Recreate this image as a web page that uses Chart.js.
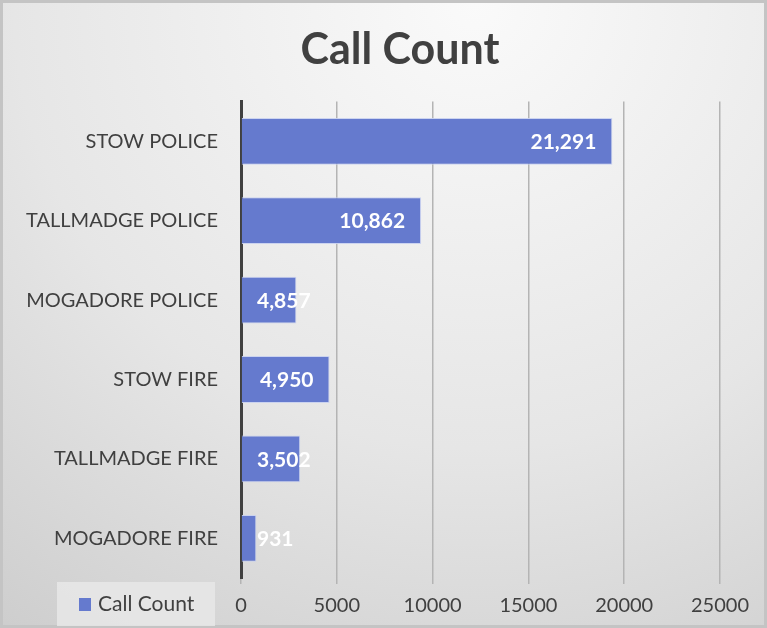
<!DOCTYPE html>
<html>
<head>
<meta charset="utf-8">
<title>Call Count</title>
<script src="https://cdn.jsdelivr.net/npm/chart.js@4.4.1/dist/chart.umd.min.js"></script>
<style>
    body { margin: 0; }
    #wrap { position: relative; width: 767px; height: 628px; }
    #bg {
        position: absolute; left: 0; top: 0; width: 767px; height: 628px;
        box-sizing: border-box; border: 3px solid #c4c4c4;
        background: radial-gradient(ellipse 110% 130% at 62% 0%, #fafafa 0%, #e6e6e6 55%, #cbcbcb 100%);
    }
    canvas { position: absolute; left: 0; top: 0; }
</style>
</head>
<body>
<div id="wrap">
    <div id="bg"></div>
    <canvas id="callChart" width="767" height="628"></canvas>
</div>
<script>
// categories, top to bottom
const categories = ['STOW POLICE', 'TALLMADGE POLICE', 'MOGADORE POLICE', 'STOW FIRE', 'TALLMADGE FIRE', 'MOGADORE FIRE'];
// bar lengths as drawn in the picture
const callCounts = [19380, 9400, 2890, 4620, 3090, 800];
// data label text shown on the bars
const callCountLabels = ['21,291', '10,862', '4,857', '4,950', '3,502', '931'];
const seriesName = 'Call Count';
const xMin = 0, xMax = 25000, xStep = 5000;

const textColor = '#404040';
const barColor = '#657ace';

Chart.defaults.font.family = 'Lato';

// white value labels near the end of each bar
const barLabels = {
    id: 'barLabels',
    afterDatasetsDraw(chart) {
        const ctx = chart.ctx;
        const meta = chart.getDatasetMeta(0);
        ctx.save();
        ctx.font = 'bold 21px Lato';
        ctx.fillStyle = '#ffffff';
        ctx.textBaseline = 'middle';
        ctx.textAlign = 'left';
        meta.data.forEach(function(bar, i) {
            const text = callCountLabels[i];
            const w = ctx.measureText(text).width;
            let x = bar.x - 16 - w;
            const minX = chart.chartArea.left + 16;
            if (x < minX) x = minX;
            ctx.fillText(text, x, bar.y + 1);
        });
        ctx.restore();
    }
};

// legend box in the bottom-left corner
const cornerLegend = {
    id: 'cornerLegend',
    afterDraw(chart) {
        const ctx = chart.ctx;
        ctx.save();
        ctx.fillStyle = 'rgba(232,232,232,0.85)';
        ctx.fillRect(57, 582, 158, 44);
        ctx.fillStyle = barColor;
        ctx.fillRect(79, 598, 12, 13);
        ctx.fillStyle = textColor;
        ctx.font = '21px Lato';
        ctx.textBaseline = 'middle';
        ctx.textAlign = 'left';
        ctx.fillText(seriesName, 98, 604);
        ctx.restore();
    }
};

// title is centred a bit right of the canvas middle
const shiftTitle = {
    id: 'shiftTitle',
    afterLayout(chart) {
        if (chart.titleBlock) {
            chart.titleBlock.left = 80;
        }
    }
};

const ctx = document.getElementById('callChart').getContext('2d');
const callChart = new Chart(ctx, {
    type: 'bar',
    data: {
        labels: categories,
        datasets: [{
            label: seriesName,
            data: callCounts,
            backgroundColor: barColor,
            borderColor: 'rgba(200,208,240,0.9)',
            borderWidth: 1,
            barPercentage: 0.59,
            categoryPercentage: 1
        }]
    },
    options: {
        indexAxis: 'y',
        responsive: false,
        animation: false,
        layout: {
            padding: { left: 0, right: 47, top: 0, bottom: 0 }
        },
        scales: {
            x: {
                min: xMin,
                max: xMax,
                ticks: {
                    stepSize: xStep,
                    color: textColor,
                    font: { size: 20 },
                    padding: 10,
                    maxRotation: 0,
                    callback: function(value) { return String(value); }
                },
                grid: { color: '#b4b4b4', lineWidth: 1.5, tickLength: 6 },
                border: { display: false },
                afterFit: function(s) { s.height = 50; }
            },
            y: {
                ticks: {
                    color: textColor,
                    font: { size: 20 },
                    padding: 23
                },
                grid: { display: false, drawTicks: false },
                border: { color: '#404040', width: 3 },
                afterFit: function(s) { s.width = 241; }
            }
        },
        plugins: {
            legend: { display: false },
            tooltip: { enabled: false },
            title: {
                display: true,
                text: 'Call Count',
                color: textColor,
                font: { size: 43, weight: 'bold' },
                padding: { top: 24, bottom: 26 }
            }
        }
    },
    plugins: [barLabels, cornerLegend, shiftTitle]
});
</script>
</body>
</html>
